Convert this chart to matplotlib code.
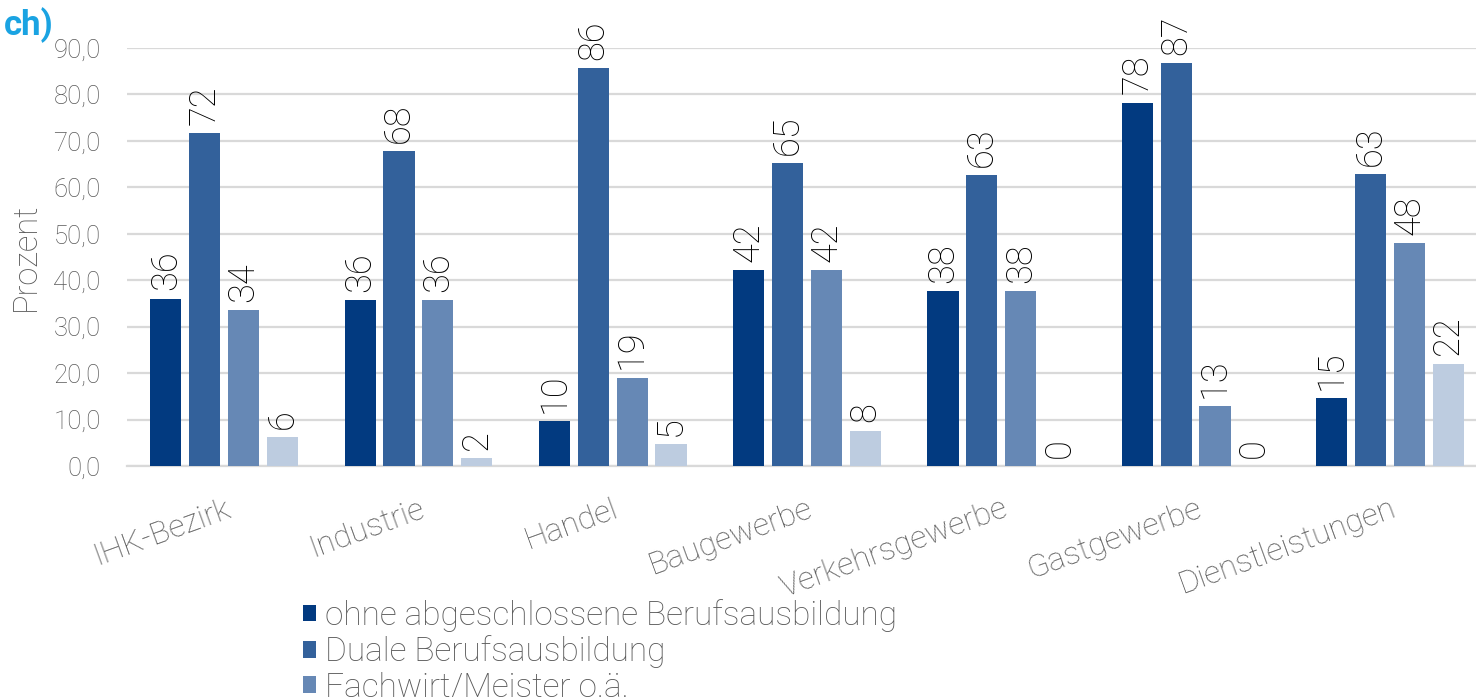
import numpy as np
import matplotlib
matplotlib.use("Agg")
import matplotlib.pyplot as plt

plt.rcParams['font.family'] = ['Roboto', 'DejaVu Sans']

# Daten
kategorien = ['IHK-Bezirk', 'Industrie', 'Handel', 'Baugewerbe',
              'Verkehrsgewerbe', 'Gastgewerbe', 'Dienstleistungen']
ohne_abschluss = [36.0, 35.7, 9.6, 42.2, 37.6, 78.2, 14.6]
duale_ausbildung = [71.6, 67.8, 85.7, 65.2, 62.6, 86.8, 62.9]
fachwirt_meister = [33.6, 35.7, 19.0, 42.2, 37.6, 12.9, 48.0]
hochschule = [6.2, 1.7, 4.7, 7.6, 0.0, 0.0, 22.0]

serien = ['ohne abgeschlossene Berufsausbildung', 'Duale Berufsausbildung',
          'Fachwirt/Meister o.ä.', 'Hochschulabschluss']
farben = ['#023a80', '#33619b', '#6688b5', '#bdcce0']
yticks = [0, 10, 20, 30, 40, 50, 60, 70, 80, 90]

W, H = 1476, 697
fig = plt.figure(figsize=(W / 100, H / 100), dpi=100)
# Achse reicht rechts etwas ueber den Bildrand hinaus
ax = fig.add_axes([127 / W, (H - 466) / H, 1360 / W, 418 / H])

x = np.arange(len(kategorien))
werte = [ohne_abschluss, duale_ausbildung, fachwirt_meister, hochschule]
offsets = [-0.3, -0.1, 0.1, 0.3]
for vals, off, col, name in zip(werte, offsets, farben, serien):
    bars = ax.bar(x + off, vals, width=0.16, color=col, label=name, zorder=3)
    for b, v in zip(bars, vals):
        ax.annotate('{:.0f}'.format(v), (b.get_x() + b.get_width() / 2, v),
                    xytext=(0, 6), textcoords='offset points',
                    rotation=90, ha='center', va='bottom', fontsize=26,
                    fontweight='light', color='black', annotation_clip=False)

ax.set_xlim(-0.5, 6.5)
ax.set_ylim(0, 90)
ax.set_yticks(yticks)
ax.set_yticklabels(['{:.1f}'.format(t).replace('.', ',') for t in yticks],
                   fontsize=18.5, color='#595959', fontweight='light')
ax.yaxis.grid(True, color='#d9d9d9', linewidth=1.6, zorder=0)
ax.set_axisbelow(True)
for s in ['top', 'right', 'left']:
    ax.spines[s].set_visible(False)
ax.spines['bottom'].set_color('#d9d9d9')
ax.spines['bottom'].set_linewidth(1.6)
ax.tick_params(axis='both', length=0)
ax.tick_params(axis='y', pad=19)

ax.set_xticks(x)
ax.set_xticklabels(kategorien, rotation=20, ha='right', va='top',
                   rotation_mode='anchor', fontsize=23, color='#595959',
                   fontweight='light')
ax.tick_params(axis='x', pad=20)

ax.set_ylabel('Prozent', fontsize=23.5, color='#595959', fontweight='light',
              labelpad=8)

fig.text(4 / W, 1 - 25 / H, 'ch)', fontsize=25, fontweight='bold',
         color='#1aa3e2', va='center', ha='left')

fig.legend(loc='upper left', bbox_to_anchor=(303 / W, 1 - 599 / H),
           frameon=False, handlelength=0.4, handleheight=0.4,
           handletextpad=0.25, labelspacing=0.1, borderpad=0,
           borderaxespad=0, labelcolor='#595959',
           prop={'weight': 'light', 'size': 24})

fig.savefig('out.png', dpi=100)
